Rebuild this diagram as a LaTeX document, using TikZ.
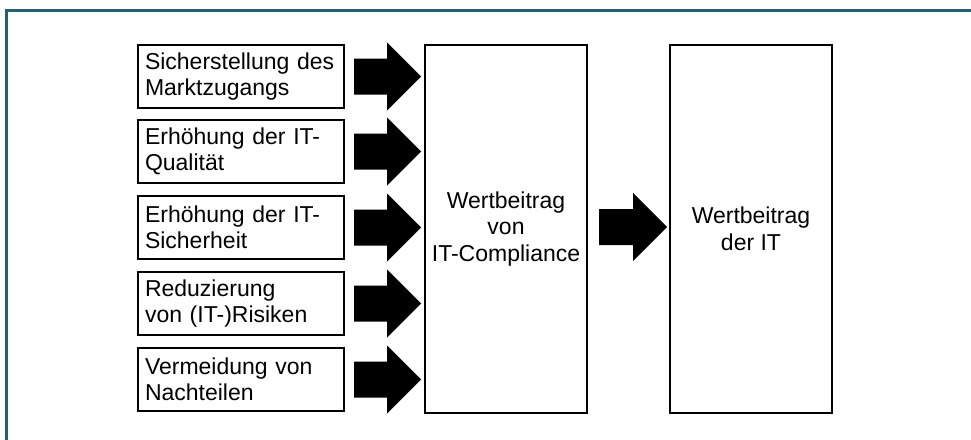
\documentclass[tikz,border=0pt]{standalone}
\usepackage{fontspec}
\setmainfont{Liberation Sans}
\usetikzlibrary{calc,positioning}
\definecolor{frameteal}{RGB}{38,94,114}
\tikzset{
  x=1pt, y=-1pt,
  every node/.style={font=\fontsize{23}{26.5}\selectfont},
  factor/.style={draw=black, line width=2pt, minimum width=206pt, minimum height=63pt,
                 text width=192pt, inner xsep=7pt, inner ysep=0pt, align=left, anchor=north west},
  bigbox/.style={draw=black, line width=2pt, minimum width=162pt, minimum height=368pt,
                 inner sep=0pt, align=center, anchor=north west},
  blk/.style={fill=black}
}
% block arrow: start point, gap, shaft length, head length
\newcommand\blkarrow[4]{%
  \fill[blk] ($#1+(#2,-18)$) -- ++(#3,0) -- ++(0,-16) -- ++(#4,34) -- ++(-#4,34)
    -- ++(0,-16) -- ++(-#3,0) -- cycle;}
\begin{document}
\begin{tikzpicture}
  \useasboundingbox (0,0) rectangle (971,439);
  % outer frame
  \draw[frameteal, line width=3pt] (6.5,445) -- (6.5,10.5) -- (980,10.5);

  % contributing factors
  \node[factor] (b1) at (137,44)  {Sicherstellung des\\Marktzugangs};
  \node[factor] (b2) at (137,119) {Erhöhung der IT-\\Qualität};
  \node[factor] (b3) at (137,195) {Erhöhung der IT-\\Sicherheit};
  \node[factor] (b4) at (137,271) {Reduzierung\\von (IT-)Risiken};
  \node[factor] (b5) at (137,347) {Vermeidung von\\Nachteilen};

  % value contribution boxes
  \node[bigbox] (mid) at (424,44) {Wertbeitrag\\von\\IT-Compliance};
  \node[bigbox] (it)  at (669,44) {Wertbeitrag\\der IT};

  % arrows
  \foreach \b in {b1,b2,b3,b4,b5} {\blkarrow{(\b.east)}{9}{33}{34}}
  \blkarrow{($(mid.east)+(0,-2)$)}{11}{34}{34}
\end{tikzpicture}
\end{document}
